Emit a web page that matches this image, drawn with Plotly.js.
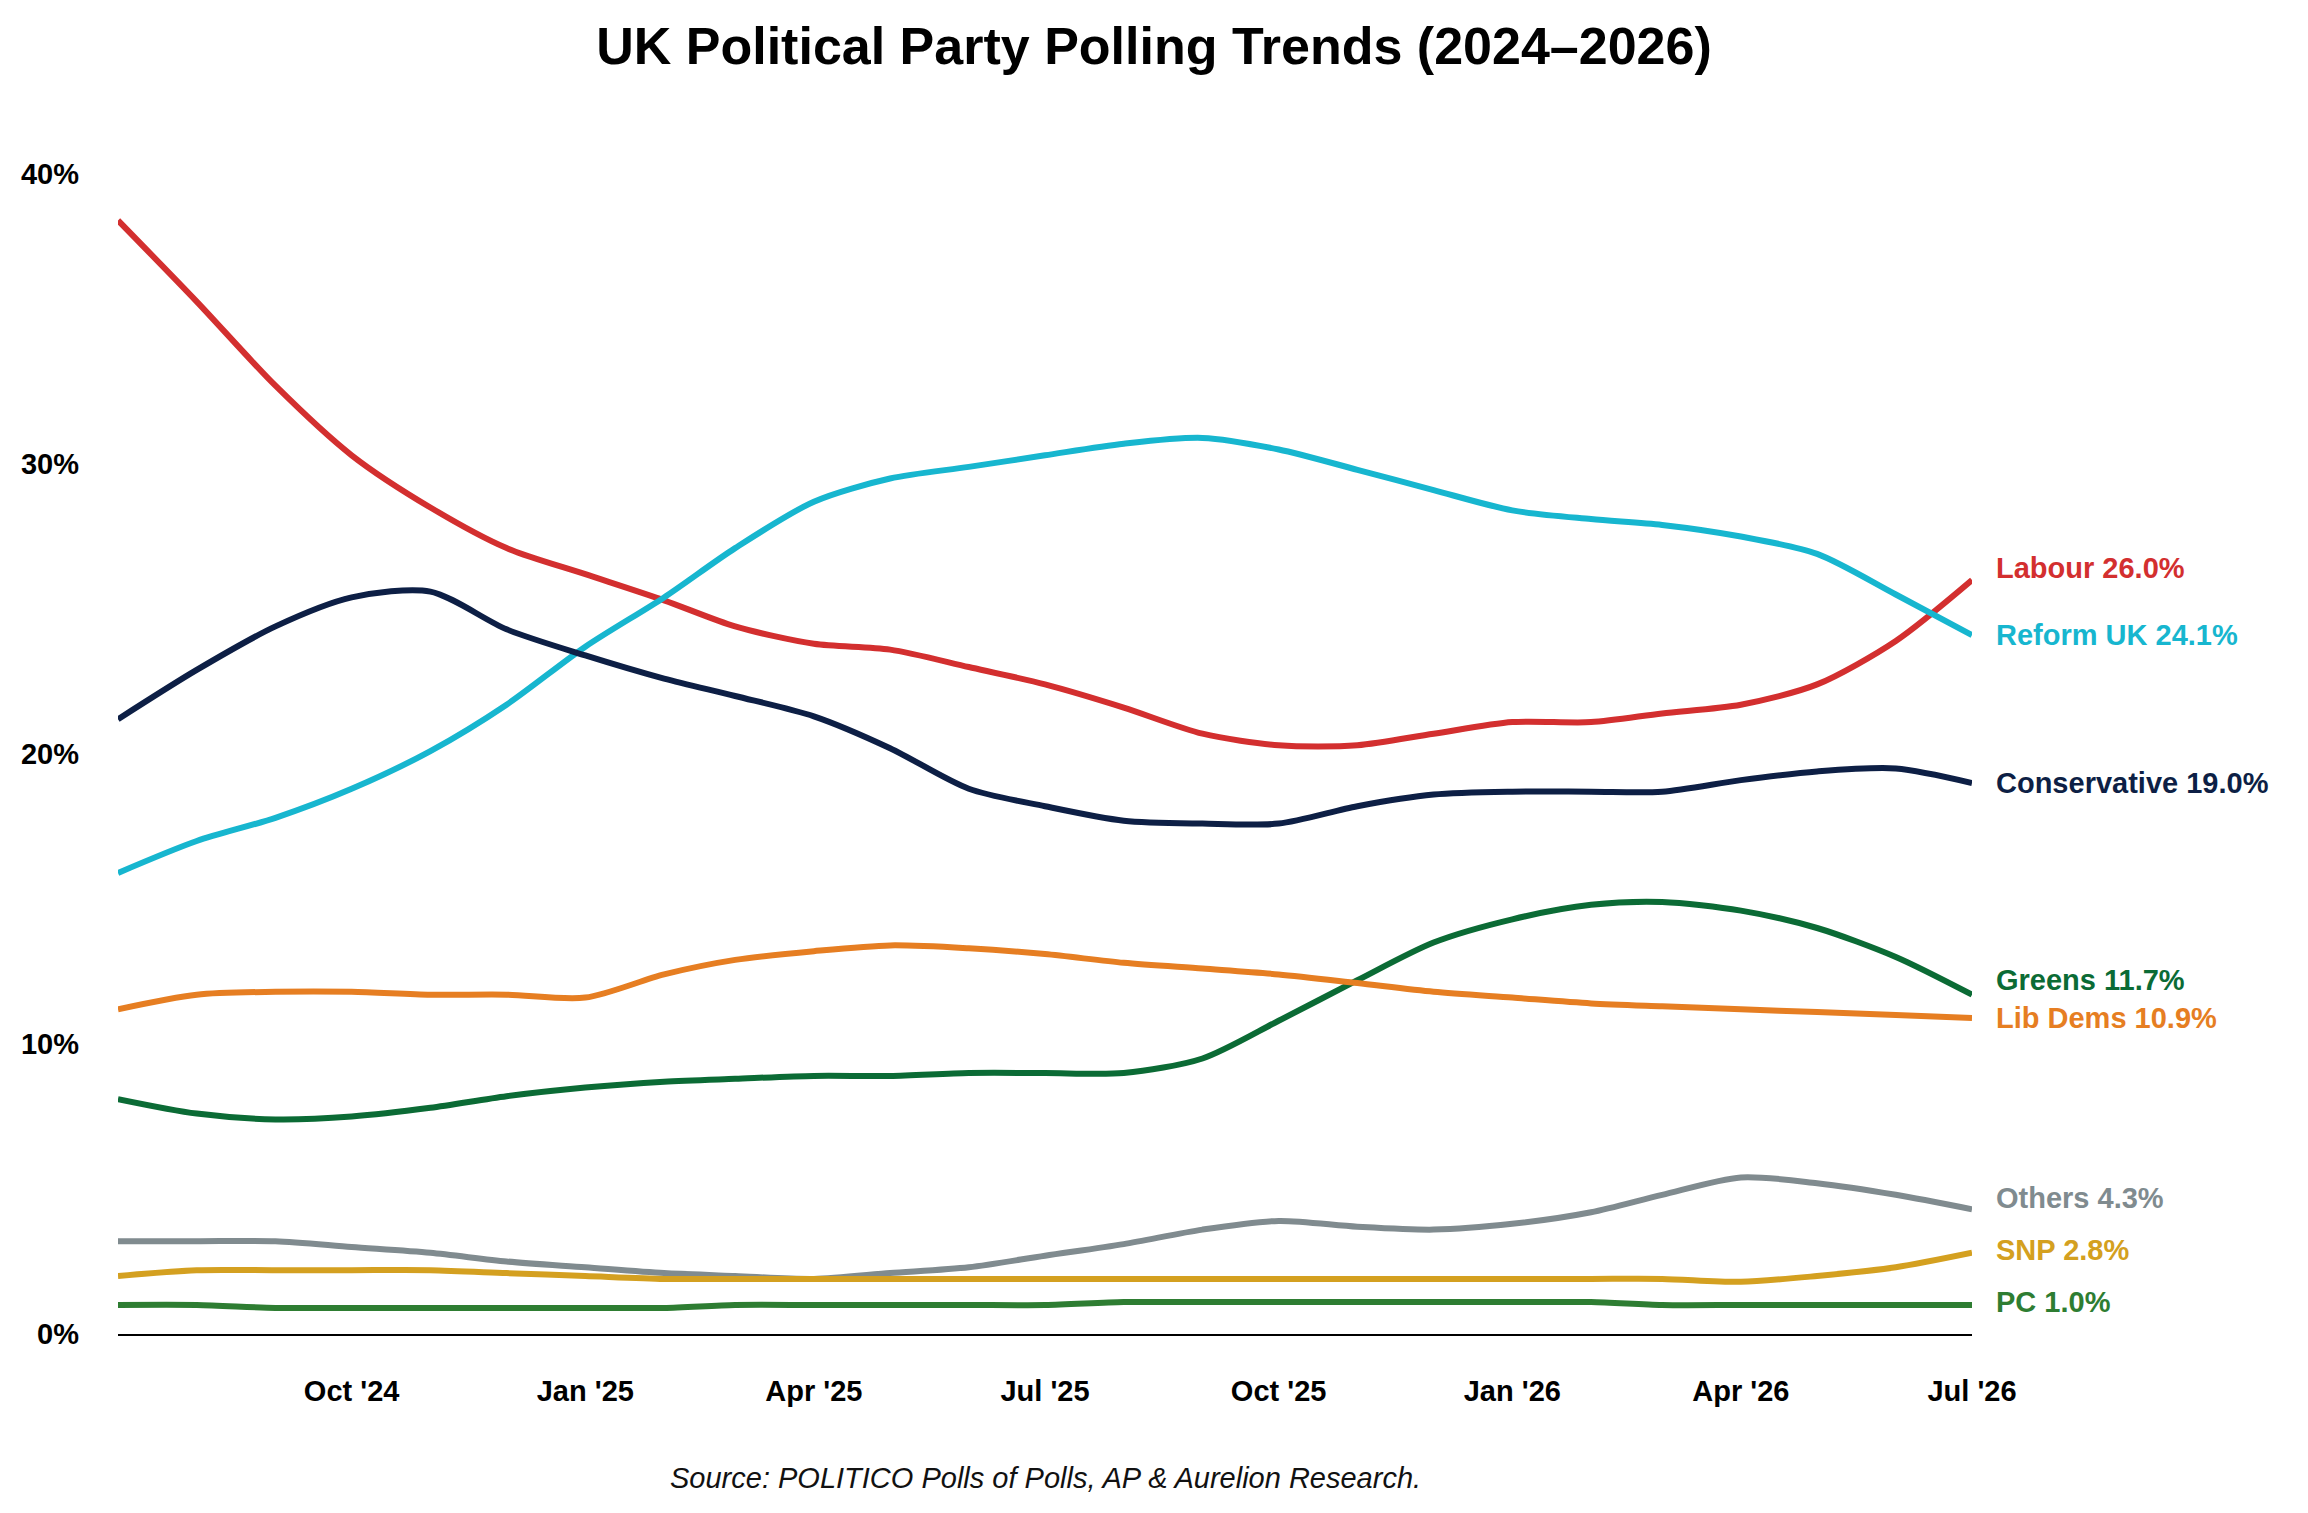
<!DOCTYPE html>
<html>
<head>
<meta charset="utf-8">
<script src="https://cdn.plot.ly/plotly-3.0.1.min.js"></script>
<style>body{margin:0;background:#fff}#chart{width:2308px;height:1513px}</style>
</head>
<body>
<div id="chart"></div>
<script>
var months = ['2024-07-01','2024-08-01','2024-09-01','2024-10-01','2024-11-01','2024-12-01',
  '2025-01-01','2025-02-01','2025-03-01','2025-04-01','2025-05-01','2025-06-01',
  '2025-07-01','2025-08-01','2025-09-01','2025-10-01','2025-11-01','2025-12-01',
  '2026-01-01','2026-02-01','2026-03-01','2026-04-01','2026-05-01','2026-06-01','2026-07-01'];

var labour = [38.4,35.6,32.7,30.3,28.5,27.1,26.2,25.3,24.4,23.8,23.6,23.0,22.4,21.6,20.7,20.3,20.3,20.7,21.1,21.1,21.4,21.7,22.4,23.9,26.0];
var reform = [15.9,17.0,17.8,18.8,20.1,21.7,23.7,25.4,27.1,28.7,29.5,29.9,30.3,30.7,30.9,30.5,29.8,29.1,28.4,28.1,27.9,27.5,26.9,25.5,24.1];
var conservative = [21.2,22.9,24.4,25.4,25.6,24.3,23.4,22.6,22.0,21.3,20.2,18.8,18.2,17.7,17.6,17.6,18.2,18.6,18.7,18.7,18.7,19.1,19.4,19.5,19.0];
var greens = [8.1,7.6,7.4,7.5,7.8,8.2,8.5,8.7,8.8,8.9,8.9,9.0,9.0,9.0,9.5,10.8,12.2,13.5,14.3,14.8,14.9,14.6,14.0,13.0,11.7];
var libdems = [11.2,11.7,11.8,11.8,11.7,11.7,11.6,12.4,12.9,13.2,13.4,13.3,13.1,12.8,12.6,12.4,12.1,11.8,11.6,11.4,11.3,11.2,11.1,11.0,10.9];
var others = [3.2,3.2,3.2,3.0,2.8,2.5,2.3,2.1,2.0,1.9,2.1,2.3,2.7,3.1,3.6,3.9,3.7,3.6,3.8,4.2,4.8,5.4,5.2,4.8,4.3];
var snp = [2.0,2.2,2.2,2.2,2.2,2.1,2.0,1.9,1.9,1.9,1.9,1.9,1.9,1.9,1.9,1.9,1.9,1.9,1.9,1.9,1.9,1.8,2.0,2.3,2.8];
var pc = [1.0,1.0,0.9,0.9,0.9,0.9,0.9,0.9,1.0,1.0,1.0,1.0,1.0,1.1,1.1,1.1,1.1,1.1,1.1,1.1,1.0,1.0,1.0,1.0,1.0];

var tickDates = ['2024-10-01','2025-01-01','2025-04-01','2025-07-01','2025-10-01','2026-01-01','2026-04-01','2026-07-01'];
var tickText = ["Oct '24","Jan '25","Apr '25","Jul '25","Oct '25","Jan '26","Apr '26","Jul '26"];

var parties = [
  {name:'Labour', y:labour, color:'#d32f2f', labelY:26.4},
  {name:'Reform UK', y:reform, color:'#17b6cf', labelY:24.1},
  {name:'Conservative', y:conservative, color:'#0d1f45', labelY:19.0},
  {name:'Greens', y:greens, color:'#0b6b35', labelY:12.2},
  {name:'Lib Dems', y:libdems, color:'#e67e22', labelY:10.9},
  {name:'Others', y:others, color:'#808b8f', labelY:4.7},
  {name:'SNP', y:snp, color:'#d4a020', labelY:2.9},
  {name:'PC', y:pc, color:'#2e7d32', labelY:1.1}
];

var traces = parties.map(function(p){
  return {x:months, y:p.y, name:p.name, type:'scatter', mode:'lines',
    line:{color:p.color, width:6, shape:'spline', smoothing:0.8}};
});

var annotations = parties.map(function(p){
  return {x:'2026-07-01', y:p.labelY, xref:'x', yref:'y', xanchor:'left', xshift:22,
    text:'<b>'+p.name+' '+p.y[p.y.length-1].toFixed(1)+'%</b>', showarrow:false,
    font:{size:29, color:p.color, family:'Liberation Sans, Arial, sans-serif'}};
});
annotations.push({x:0.5, y:-0.14, xref:'paper', yref:'paper', showarrow:false,
  text:'<i>Source: POLITICO Polls of Polls, AP &amp; Aurelion Research.</i>',
  font:{size:29, color:'#111', family:'Liberation Sans, Arial, sans-serif'}, xanchor:'center'});

var layout = {
  width:2308, height:1513,
  margin:{l:118, r:336, t:174, b:179},
  paper_bgcolor:'#fff', plot_bgcolor:'#fff',
  showlegend:false,
  font:{family:'Liberation Sans, Arial, sans-serif', color:'#000'},
  title:{text:'<b>UK Political Party Polling Trends (2024–2026)</b>', x:0.5, xanchor:'center', y:0.982,
    font:{size:52, color:'#000'}},
  xaxis:{type:'date', range:['2024-07-01','2026-07-01'], tickvals:tickDates, ticktext:tickText,
    showgrid:false, zeroline:false, showline:true, linecolor:'#000', linewidth:2, ticks:'',
    tickfont:{size:29, color:'#000', weight:'bold'}, ticklabelstandoff:30},
  yaxis:{range:[0,40], tickvals:[0,10,20,30,40], ticktext:['0%','10%','20%','30%','40%'],
    showgrid:false, zeroline:false, showline:false, ticks:'',
    tickfont:{size:29, color:'#000', weight:'bold'}, ticklabelstandoff:38},
  annotations:annotations
};

Plotly.newPlot('chart', traces, layout, {displayModeBar:false});
</script>
</body>
</html>
